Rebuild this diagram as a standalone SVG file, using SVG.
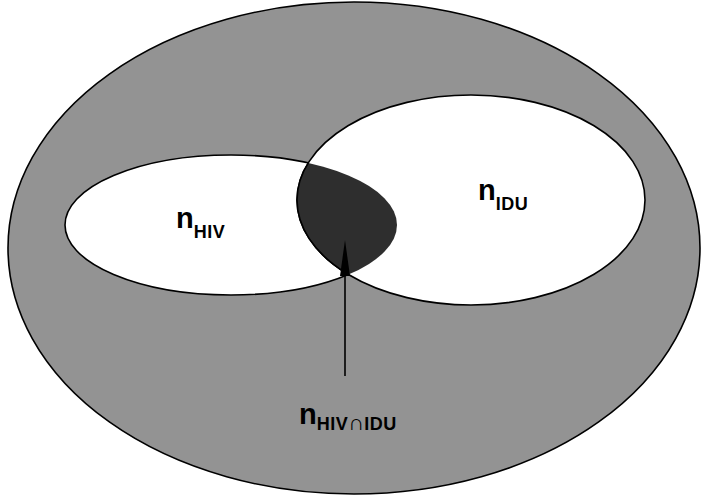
<svg xmlns="http://www.w3.org/2000/svg" width="704" height="497" viewBox="0 0 704 497">
<style>
.edge{stroke:#000;stroke-width:1.6}
.lbl{font-family:"Liberation Sans",Arial,sans-serif;fill:#000}
.big{font-size:29px;font-weight:bold}
.sub{font-size:18px;font-weight:bold;letter-spacing:0.5px}
.cap{font-size:22px;font-weight:bold}
</style>
<defs>
<clipPath id="clipHIV"><ellipse cx="231" cy="225" rx="166" ry="70"/></clipPath>
</defs>
<rect width="704" height="497" fill="#fff"/>
<g id="universe">
<ellipse cx="354" cy="248" rx="346" ry="246" fill="#939393" class="edge"/>
</g>
<g id="hiv">
<ellipse cx="231" cy="225" rx="166" ry="70" fill="#fff" class="edge"/>
</g>
<g id="idu">
<ellipse cx="471" cy="200" rx="174" ry="105" fill="#fff" class="edge"/>
</g>
<g id="intersection">
<ellipse cx="471" cy="200" rx="174" ry="105" fill="#2e2e2e" clip-path="url(#clipHIV)"/>
<g clip-path="url(#clipHIV)"><ellipse cx="471" cy="200" rx="174" ry="105" fill="none" class="edge"/></g>
</g>
<g id="connectors">
<line x1="345" y1="376" x2="345" y2="270" class="edge"/>
<polygon points="345,240 350,276 340,276" fill="#000"/>
</g>
<g id="labels">
<text class="lbl" x="176" y="228"><tspan class="big">n</tspan><tspan class="sub" dy="10">HIV</tspan></text>
<text class="lbl" x="478" y="200"><tspan class="big">n</tspan><tspan class="sub" dy="10">IDU</tspan></text>
<text class="lbl" x="299" y="424"><tspan class="big">n</tspan><tspan class="sub" dy="6">HIV</tspan><tspan class="cap">∩</tspan><tspan class="sub">IDU</tspan></text>
</g>
</svg>
